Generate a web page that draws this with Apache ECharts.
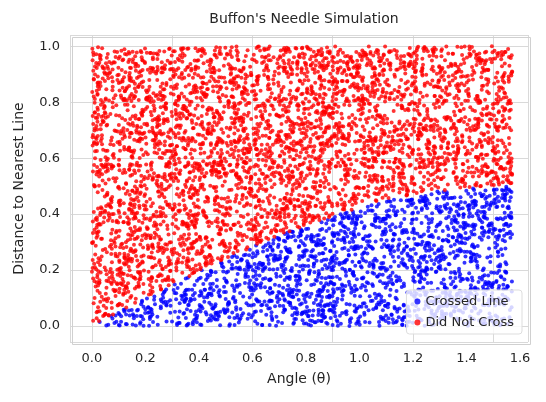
<!DOCTYPE html>
<html><head><meta charset="utf-8">
<script src="https://cdn.jsdelivr.net/npm/echarts@6/dist/echarts.min.js"></script>
<style>html,body{margin:0;padding:0;background:#fff}#c{width:546px;height:402px}</style>
</head><body><div id="c"></div>
<script>
var title = "Buffon's Needle Simulation";
var xName = "Angle (θ)";
var yName = "Distance to Nearest Line";
var seriesNames = ["Crossed Line", "Did Not Cross"];
var xTicks = [0.0, 0.2, 0.4, 0.6, 0.8, 1.0, 1.2, 1.4, 1.6];
var yTicks = [0.0, 0.2, 0.4, 0.6, 0.8, 1.0];
var needleHalfLength = 0.5;
var nDrops = 6000;

// Reproduce the Monte Carlo run with a fixed-seed generator (mulberry32)
var s = 20240601;
function rnd(){ s |= 0; s = s + 0x6D2B79F5 | 0; var t = Math.imul(s ^ s >>> 15, 1 | s);
  t = t + Math.imul(t ^ t >>> 7, 61 | t) ^ t; return ((t ^ t >>> 14) >>> 0) / 4294967296; }
var crossed = [], notCrossed = [];
for (var i = 0; i < nDrops; i++) {
  var th = rnd() * Math.PI / 2, d = rnd();
  if (d <= needleHalfLength * Math.sin(th)) crossed.push([th, d]); else notCrossed.push([th, d]);
}

var chart = echarts.init(document.getElementById('c'));
var font = 'DejaVu Sans';
chart.setOption({
  animation: false,
  backgroundColor: '#fff',
  textStyle: {fontFamily: font},
  title: {text: title, left: 299, top: 7, textAlign: 'center',
    textStyle: {fontSize: 14, fontWeight: 'normal', color: '#262626', fontFamily: font}},
  grid: {left: 70, right: 18, top: 35, bottom: 60},
  xAxis: {type: 'value', min: -0.082, max: 1.63,
    name: xName, nameLocation: 'middle', nameGap: 30,
    nameTextStyle: {fontSize: 14, color: '#262626'},
    axisLine: {show: false}, axisTick: {show: false},
    axisLabel: {color: '#262626', fontSize: 13, margin: 10,
      customValues: xTicks, formatter: function(v){return v.toFixed(1);}},
    splitLine: {show: true, lineStyle: {color: '#d9d9d9'}, customValues: xTicks}},
  yAxis: {type: 'value', min: -0.057, max: 1.04,
    name: yName, nameLocation: 'middle', nameGap: 44,
    nameTextStyle: {fontSize: 14, color: '#262626'},
    axisLine: {show: false}, axisTick: {show: false},
    axisLabel: {color: '#262626', fontSize: 13, margin: 10,
      customValues: yTicks, formatter: function(v){return v.toFixed(1);}},
    splitLine: {show: true, lineStyle: {color: '#d9d9d9'}, customValues: yTicks}},
  legend: {right: 24, bottom: 68, orient: 'vertical', itemWidth: 6, itemHeight: 6, itemGap: 8,
    backgroundColor: 'rgba(255,255,255,0.8)', borderColor: '#ddd', borderWidth: 1, borderRadius: 3, padding: [5,8],
    textStyle: {fontSize: 13, color: '#262626'},
    data: [{name: seriesNames[0], icon: 'circle'}, {name: seriesNames[1], icon: 'circle'}]},
  series: [
    {name: seriesNames[0], type: 'scatter', data: crossed, symbolSize: 4, itemStyle: {color: '#0000ff'}, silent: true},
    {name: seriesNames[1], type: 'scatter', data: notCrossed, symbolSize: 4, itemStyle: {color: '#ff0000'}, silent: true}
  ],
  graphic: [{type: 'rect', left: 70, top: 35, shape: {width: 458, height: 307}, z: 100, silent: true,
    style: {fill: 'none', stroke: '#d0d0d0', lineWidth: 1}}]
});
</script></body></html>
